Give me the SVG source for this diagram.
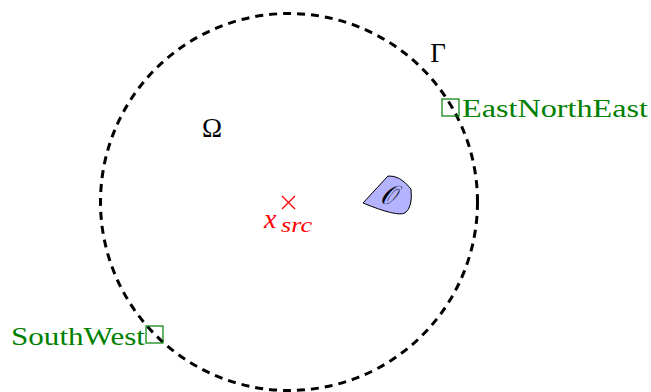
<svg xmlns="http://www.w3.org/2000/svg" width="651" height="392" viewBox="0 0 651 392">
<style>
.serif{font-family:"Liberation Serif","DejaVu Serif",serif}
.lbl{fill:#008000;font-size:26px}
.box{fill:none;stroke:#008000;stroke-width:1.2}
.math{font-size:27px;fill:#000}
</style>
<rect width="651" height="392" fill="#fff"/>
<g id="connectors">
<circle cx="289" cy="202" r="188.5" fill="none" stroke="#000" stroke-width="3" stroke-dasharray="8,6"/>
</g>
<g id="obstacle">
<path d="M363,203 L388,176 Q400,175 411,189 Q413,207 405,213 Q397,217 363,203 Z" fill="#b3b3ff" stroke="#000" stroke-width="1"/>
<text x="388" y="204" class="serif" font-size="26" font-style="italic" text-anchor="middle">𝒪</text>
</g>
<g id="gamma"><text x="438" y="62" class="serif math" text-anchor="middle">Γ</text></g>
<g id="omega"><text x="212" y="137" class="serif math" text-anchor="middle">Ω</text></g>
<g id="source">
<path d="M282,196 L295,209 M295,196 L282,209" stroke="#ff0000" stroke-width="1.3"/>
<text x="264" y="228" class="serif" font-size="28" font-style="italic" fill="#ff0000">x</text>
<text x="281" y="232" class="serif" font-size="20" font-style="italic" fill="#ff0000" textLength="31" lengthAdjust="spacingAndGlyphs">src</text>
</g>
<g id="ENE">
<rect x="442" y="99" width="17" height="17" class="box"/>
<text x="462" y="117" class="serif lbl" textLength="186" lengthAdjust="spacingAndGlyphs">EastNorthEast</text>
</g>
<g id="SW">
<rect x="146" y="326" width="17" height="17" class="box"/>
<text x="11" y="345" class="serif lbl" textLength="134" lengthAdjust="spacingAndGlyphs">SouthWest</text>
</g>
</svg>
